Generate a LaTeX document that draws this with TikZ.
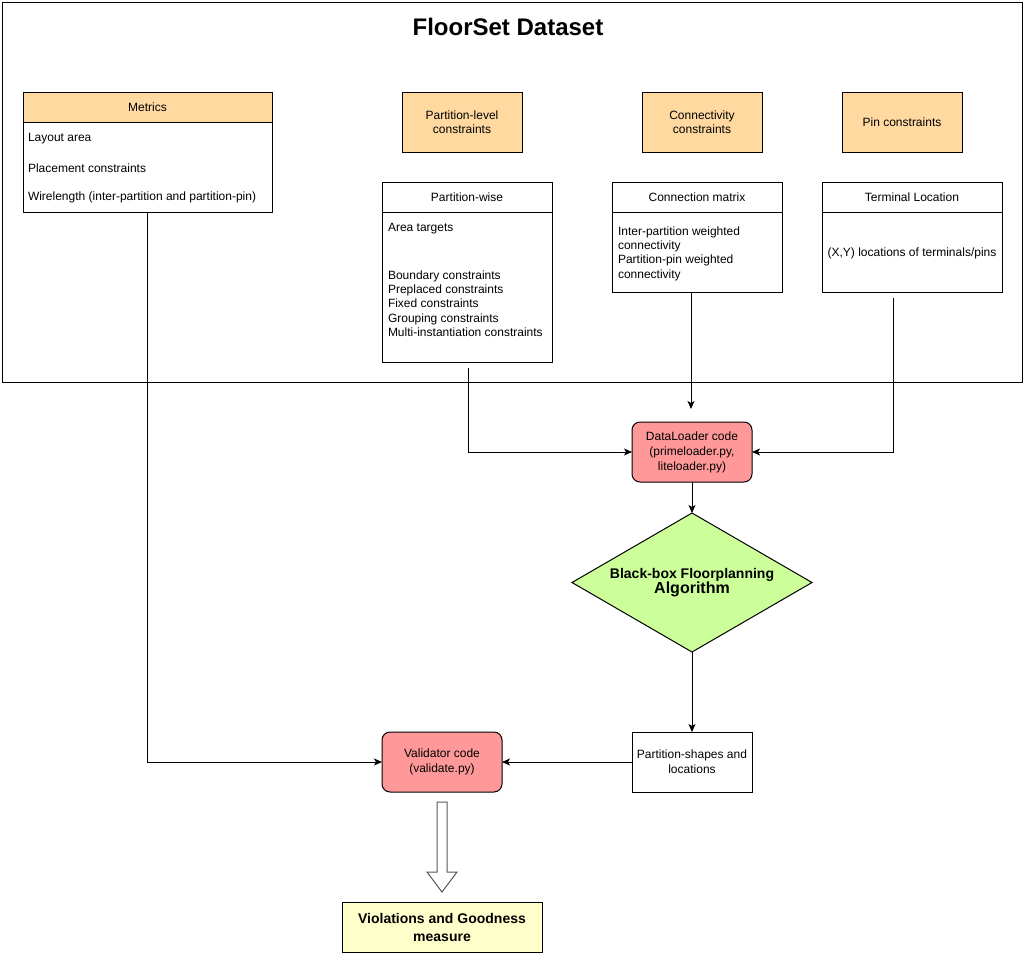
\documentclass[tikz,border=0pt]{standalone}
\usepackage{fontspec}
\setmainfont{Liberation Sans}
\usetikzlibrary{arrows.meta,shapes.geometric}
\definecolor{hdr}{HTML}{FFD9A0}
\definecolor{codecol}{HTML}{FF9999}
\definecolor{algcol}{HTML}{CCFF99}
\definecolor{rescol}{HTML}{FFFFCC}
\begin{document}
\begin{tikzpicture}[x=1pt,y=-1pt,line width=1pt,
  box/.style={draw,rectangle,inner sep=0pt,outer sep=0pt,font=\fontsize{12}{14}\selectfont,align=center},
  hdrbox/.style={box,fill=hdr},
  codebox/.style={box,rounded corners=8pt,fill=codecol,font=\fontsize{12}{15}\selectfont},
  txt/.style={inner sep=0pt,outer sep=0pt,font=\fontsize{12}{14.3}\selectfont,align=left,anchor=west},
  arr/.style={-{Stealth[length=8pt,width=7pt,inset=2pt]}}]
\useasboundingbox (0,0) rectangle (1026,956);
\fill[white] (0,0) rectangle (1026,956);
% frame
\node[box,minimum width=1020,minimum height=380] (frame) at (512,192) {};
\node[inner sep=0pt,font=\fontsize{24}{28}\selectfont\bfseries] (title) at (508,27) {FloorSet Dataset};
% Metrics
\node[hdrbox,minimum width=249,minimum height=30] (mhead) at (147.5,107) {Metrics};
\node[box,minimum width=249,minimum height=90] (mbody) at (147.5,167) {};
\node[txt] (m1) at (28,138.5) {Layout area};
\node[txt] (m2) at (28,168) {Placement constraints};
\node[txt] (m3) at (28,197.5) {Wirelength (inter-partition and partition-pin)};
% top orange boxes
\node[hdrbox,minimum width=120,minimum height=60] (plc) at (462,122) {Partition-level\\constraints};
\node[hdrbox,minimum width=120,minimum height=60] (pc) at (902,122) {Pin constraints};
\node[hdrbox,minimum width=120,minimum height=60] (cc) at (702,122) {Connectivity\\constraints};
% Partition-wise
\node[box,minimum width=170,minimum height=30] (pwhead) at (467,197) {Partition-wise};
\node[box,minimum width=170,minimum height=150] (pwbody) at (467,287) {};
\node[txt] (pw1) at (388,228.5) {Area targets};
\node[txt] (pw2) at (388,303.5) {Boundary constraints\\Preplaced constraints\\Fixed constraints\\Grouping constraints\\Multi-instantiation constraints};
% Connection matrix
\node[box,minimum width=170,minimum height=30] (cmhead) at (697,197) {Connection matrix};
\node[box,minimum width=170,minimum height=80] (cmbody) at (697,252) {};
\node[txt] (cm1) at (618,253.5) {Inter-partition weighted\\connectivity\\Partition-pin weighted\\connectivity};
% Terminal location
\node[box,minimum width=180,minimum height=30] (tlhead) at (912,197) {Terminal Location};
\node[box,minimum width=180,minimum height=80] (tlbody) at (912,252) {};
\node[inner sep=0pt,font=\fontsize{12}{14}\selectfont] (tl1) at (912,253) {(X,Y) locations of terminals/pins};
% flow
\node[codebox,minimum width=120,minimum height=60] (dl) at (692,452) {DataLoader code\\(primeloader.py,\\liteloader.py)};
\node[draw,diamond,aspect=1.727,fill=algcol,inner sep=0pt,outer sep=0pt,minimum width=240,minimum height=139,align=center] (alg) at (692,582.5)
  {\fontsize{14}{17}\selectfont\bfseries Black-box Floorplanning\\\fontsize{16}{17}\selectfont\bfseries Algorithm};
\node[box,fill=white,minimum width=120,minimum height=60,font=\fontsize{12}{15}\selectfont] (ps) at (692,762) {Partition-shapes and\\locations};
\node[codebox,minimum width=120,minimum height=60] (val) at (442,762) {Validator code\\(validate.py)};
\node[box,fill=rescol,minimum width=200,minimum height=50,font=\fontsize{14}{18}\selectfont\bfseries] (res) at (442,927) {Violations and Goodness\\measure};
% block arrow
\draw[line width=1pt,draw=black!65,fill=white] (437,802) -- (447,802) -- (447,872) -- (457,872) -- (442,892) -- (427,872) -- (437,872) -- cycle;
% connectors
\coordinate (pwout) at (468,368);
\coordinate (cmout) at (691,292);
\coordinate (cmend) at (691,409);
\coordinate (tlout) at (893,298);
\draw[arr] (mbody.south) |- (val.west);
\draw[arr] (pwout) |- (dl.west);
\draw[arr] (cmout) -- (cmend);
\draw[arr] (tlout) |- (dl.east);
\draw[arr] (dl.south) -- (alg.north);
\draw[arr] (alg.south) -- (ps.north);
\draw[arr] (ps.west) -- (val.east);
\end{tikzpicture}
\end{document}
